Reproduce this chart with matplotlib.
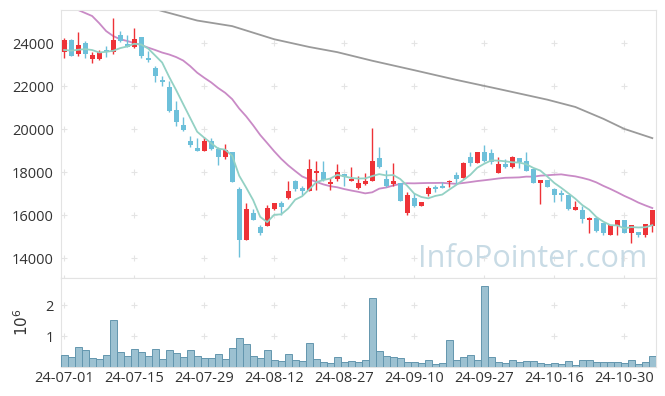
import matplotlib
matplotlib.use("Agg")
import matplotlib.pyplot as plt
import numpy as np
import pandas as pd

plt.rcParams["font.family"] = ["Open Sans", "DejaVu Sans"]

# daily OHLC, 2024-07-01 .. 2024-11-05 (trading days)
opens = [23580, 24150, 23520, 24010, 23280, 23280, 23670, 23580, 24390, 23950,
         23840, 24290, 23330, 22870, 22300, 21970, 20900, 20200, 19460, 19130,
         19000, 19460, 19100, 18730, 18940, 17220, 14850, 16090, 15470, 15500,
         16290, 16560, 16820, 17600, 17280, 17130, 17970, 18000, 17470, 17680,
         17910, 17600, 17280, 17470, 17600, 18680, 17690, 17440, 17490, 16090,
         16820, 16450, 17000, 17320, 17360, 17540, 17880, 17750, 18710, 18450,
         18930, 18900, 17980, 18370, 18260, 18650, 18540, 18140, 17490, 17640,
         17240, 17020, 16950, 16250, 16250, 15780, 15870, 15630, 15100, 15500,
         15780, 15160, 15220, 15080, 15500]
highs = [24230, 24200, 24510, 24110, 23580, 23670, 23890, 25160, 24570, 24390,
         24700, 24300, 23640, 22940, 22470, 22250, 21320, 20590, 19690, 19580,
         19630, 19580, 19190, 19320, 18950, 17330, 16560, 16280, 15550, 16470,
         16590, 16680, 17600, 17620, 17380, 18620, 18530, 18530, 17720, 18370,
         17920, 18250, 17840, 17950, 20080, 19180, 18110, 18420, 17500, 17100,
         17020, 16610, 17360, 17410, 17560, 17640, 18030, 18470, 18930, 18940,
         19270, 19080, 18730, 18620, 18770, 18680, 18960, 18170, 17650, 17660,
         17250, 17180, 16960, 16680, 16430, 15910, 15900, 15640, 15560, 15790,
         15790, 15560, 15230, 15610, 16260]
lows = [23330, 23400, 23420, 23300, 23100, 23210, 23360, 23490, 24050, 23830,
        23800, 23330, 23120, 22190, 22000, 20820, 20170, 19920, 19190, 19000,
        19000, 19040, 18350, 18630, 17560, 14050, 14850, 15780, 15080, 15500,
        16250, 16010, 16760, 17130, 16940, 17130, 17180, 17600, 17160, 17600,
        17380, 17600, 17220, 17410, 17600, 18190, 17330, 17380, 16660, 16020,
        16400, 16440, 16910, 17100, 17250, 17330, 17470, 17720, 18310, 18440,
        18490, 18370, 17980, 18190, 18190, 18210, 18070, 17490, 16530, 17320,
        16620, 16680, 16260, 16240, 15660, 15190, 15240, 15080, 15090, 15080,
        15180, 14730, 14980, 14980, 15240]
closes = [24150, 23420, 23920, 23490, 23460, 23580, 23580, 24150, 24110, 23850,
          24200, 23420, 23210, 22490, 22210, 20850, 20350, 19970, 19270, 19000,
          19460, 19070, 18700, 19040, 17560, 14850, 16290, 15780, 15160, 16330,
          16560, 16400, 17130, 17220, 17130, 18150, 18060, 17640, 17560, 18000,
          17800, 17690, 17500, 17600, 18530, 18260, 17380, 17600, 16670, 16950,
          16450, 16600, 17280, 17220, 17270, 17600, 17690, 18420, 18420, 18930,
          18530, 18470, 18370, 18260, 18700, 18470, 18080, 17520, 17640, 17330,
          16960, 16930, 16280, 16370, 15840, 15870, 15260, 15190, 15550, 15780,
          15190, 15550, 15100, 15600, 16250]
volumes = [377000, 310000, 635000, 540000, 280000, 250000, 380000, 1510000, 470000, 345000,
           570000, 470000, 345000, 570000, 250000, 540000, 440000, 310000, 540000, 345000,
           280000, 280000, 410000, 250000, 600000, 925000, 730000, 345000, 280000, 540000,
           215000, 185000, 410000, 215000, 185000, 765000, 250000, 150000, 120000, 310000,
           150000, 185000, 150000, 215000, 2215000, 505000, 345000, 310000, 280000, 150000,
           150000, 120000, 215000, 90000, 120000, 860000, 215000, 310000, 380000, 215000,
           2600000, 310000, 150000, 120000, 215000, 150000, 185000, 185000, 120000, 90000,
           120000, 90000, 185000, 55000, 215000, 215000, 150000, 150000, 150000, 150000,
           120000, 215000, 90000, 150000, 345000]

# moving-average values before enough days are in view
ma5_head = [23690, 23660, 23700, 23730]
ma20_head = [25870, 25710, 25550, 25410, 25270, 24940, 24570, 24340, 24190, 24110,
             24010, 23920, 23800, 23690, 23570, 23480, 23360, 23200, 22940]
# long moving average (gray), read at a few days
long_ma_days = [0, 10, 14, 19, 24, 30, 35, 39, 44, 50, 56, 62, 69, 73, 77, 80, 84]
long_ma_vals = [26900, 25900, 25500, 25060, 24800, 24190, 23830, 23590, 23190, 22750,
                22300, 21880, 21380, 21040, 20490, 20020, 19590]

tick_days = [0, 10, 20, 30, 40, 50, 60, 70, 80]
tick_labels = ["24-07-01", "24-07-15", "24-07-29", "24-08-12", "24-08-27",
               "24-09-10", "24-09-27", "24-10-16", "24-10-30"]

UP = "#ee3237"
DOWN = "#6dc0da"
GRID = "#e4e4e4"
SPINE = "#e3e3e3"
TXT = "#333333"

x = np.arange(len(closes))
o = np.array(opens, float)
c = np.array(closes, float)
h = np.array(highs, float)
l = np.array(lows, float)

close_s = pd.Series(c)
ma5 = close_s.rolling(5).mean().to_numpy()
ma5[:len(ma5_head)] = ma5_head
ma20 = close_s.rolling(20).mean().to_numpy()
ma20[:len(ma20_head)] = ma20_head

fig = plt.figure(figsize=(6.65, 3.96), dpi=100)
ax = fig.add_axes([0.0917, 0.298, 0.895, 0.6767])
axv = fig.add_axes([0.0917, 0.0732, 0.895, 0.2247], sharex=ax)

# candles
up = c >= o
colors = np.where(up, UP, DOWN)
body_lo = np.minimum(o, c)
body_h = np.maximum(np.abs(c - o), 40)
ax.vlines(x, l, h, colors=colors, linewidth=1.0, zorder=3)
ax.bar(x, body_h, bottom=body_lo, width=0.7, color=colors, linewidth=0, zorder=4)

ax.plot(long_ma_days, long_ma_vals, color="#9a9a9a", lw=1.3, zorder=2)
ax.plot(x, ma20, color="#c98ac6", lw=1.3, zorder=2)
ax.plot(x, ma5, color="#93d1c4", lw=1.3, zorder=5)

ax.text(0.985, 0.042, "InfoPointer.com", transform=ax.transAxes, ha="right",
        va="baseline", fontsize=22, color="#c8dbe5", zorder=1)

price_ticks = [14000, 16000, 18000, 20000, 22000, 24000]
ax.set_ylim(13084, 25549)
ax.set_yticks(price_ticks)
ax.set_xlim(-0.45, 84.55)
gx, gy = np.meshgrid(tick_days, price_ticks)
ax.plot(gx.ravel(), gy.ravel(), "+", color=GRID, ms=4, mew=0.8, zorder=0)

# volume
vol = np.array(volumes, float) / 1e6
axv.bar(x, vol, width=1.0, color="#9cc1d1", edgecolor="#6396ae", linewidth=0.7, zorder=3)
axv.set_ylim(0, 2.87)
axv.set_yticks([1, 2])
gx, gy = np.meshgrid(tick_days, [1, 2])
axv.plot(gx.ravel(), gy.ravel(), "+", color=GRID, ms=4, mew=0.8, zorder=0)
axv.set_ylabel("$10^{6}$", color=TXT, fontsize=11, labelpad=10)

axv.set_xticks(tick_days)
axv.set_xticklabels(tick_labels)

for a in (ax, axv):
    for sp in a.spines.values():
        sp.set_color(SPINE)
    a.tick_params(axis="y", length=0, pad=5, labelsize=10.5, labelcolor=TXT)
ax.tick_params(axis="x", direction="inout", length=4, color=GRID, labelbottom=False)
axv.tick_params(axis="x", length=0, pad=3, labelsize=10.5, labelcolor=TXT)

fig.savefig("out.png", dpi=100)
